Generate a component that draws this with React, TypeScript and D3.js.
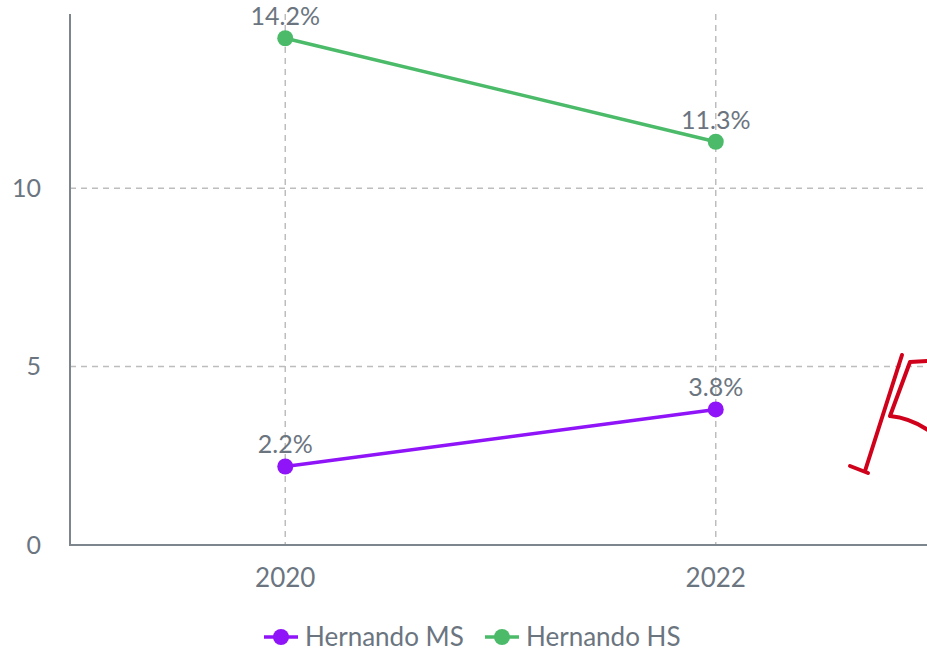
import React, { useRef, useEffect } from 'react';
import * as d3 from 'd3';

const years = ['2020', '2022'];
const msValues = [2.2, 3.8];
const hsValues = [14.2, 11.3];
const yTicks = [0, 5, 10];
const seriesNames = ['Hernando MS', 'Hernando HS'];

export default function App() {
  const ref = useRef<SVGSVGElement>(null);

  useEffect(() => {
    const svg = d3.select(ref.current);
    svg.selectAll('*').remove();

    const width = 927;
    const height = 651;
    const left = 70, right = 931, top = 14, bottom = 545;
    const font = 'Lato, "Open Sans", sans-serif';
    const textColor = '#6b7580';
    const axisColor = '#7d858d';
    const gridColor = '#bdbdbd';

    svg.attr('width', width).attr('height', height);

    const x = d3.scalePoint<string>().domain(years).range([left, right]).padding(0.5);
    const y = d3.scaleLinear().domain([0, 14.88]).range([bottom, top]);

    const series = [
      { name: seriesNames[0], values: msValues, color: '#8f14f7' },
      { name: seriesNames[1], values: hsValues, color: '#4bbb6a' },
    ];

    // grid
    svg.append('g')
      .selectAll('line')
      .data(yTicks.filter(d => d > 0))
      .join('line')
        .attr('x1', left).attr('x2', width)
        .attr('y1', d => y(d)).attr('y2', d => y(d))
        .attr('stroke', gridColor)
        .attr('stroke-width', 1.5)
        .attr('stroke-dasharray', '6,5');

    svg.append('g')
      .selectAll('line')
      .data(years)
      .join('line')
        .attr('x1', d => x(d)!).attr('x2', d => x(d)!)
        .attr('y1', top).attr('y2', bottom)
        .attr('stroke', gridColor)
        .attr('stroke-width', 1.5)
        .attr('stroke-dasharray', '6,5');

    // axes
    svg.append('line')
      .attr('x1', left).attr('x2', left)
      .attr('y1', top).attr('y2', bottom + 1)
      .attr('stroke', axisColor).attr('stroke-width', 2);
    svg.append('line')
      .attr('x1', left - 1).attr('x2', width)
      .attr('y1', bottom).attr('y2', bottom)
      .attr('stroke', axisColor).attr('stroke-width', 2);

    svg.append('g')
      .selectAll('text')
      .data(yTicks)
      .join('text')
        .attr('x', 41)
        .attr('y', d => y(d))
        .attr('dy', '0.35em')
        .attr('text-anchor', 'end')
        .attr('fill', textColor)
        .style('font-family', font)
        .style('font-size', '25px')
        .text(d => d);

    svg.append('g')
      .selectAll('text')
      .data(years)
      .join('text')
        .attr('x', d => x(d)!)
        .attr('y', 578)
        .attr('dy', '0.35em')
        .attr('text-anchor', 'middle')
        .attr('fill', textColor)
        .style('font-family', font)
        .style('font-size', '26px')
        .text(d => d);

    const line = d3.line<number>()
      .x((_, i) => x(years[i])!)
      .y(d => y(d));

    series.forEach(s => {
      svg.append('path')
        .datum(s.values)
        .attr('d', line)
        .attr('fill', 'none')
        .attr('stroke', s.color)
        .attr('stroke-width', 3.5);

      svg.append('g')
        .selectAll('circle')
        .data(s.values)
        .join('circle')
          .attr('cx', (_, i) => x(years[i])!)
          .attr('cy', d => y(d))
          .attr('r', 8)
          .attr('fill', s.color);

      svg.append('g')
        .selectAll('text')
        .data(s.values)
        .join('text')
          .attr('x', (_, i) => x(years[i])!)
          .attr('y', d => y(d) - 22)
          .attr('dy', '0.35em')
          .attr('text-anchor', 'middle')
          .attr('fill', textColor)
          .style('font-family', font)
          .style('font-size', '25px')
          .text(d => `${d.toFixed(1)}%`);
    });

    // legend
    const legendX = [264, 485];
    const legend = svg.append('g')
      .selectAll('g')
      .data(series)
      .join('g')
        .attr('transform', (_, i) => `translate(${legendX[i]},637)`);
    legend.append('line')
      .attr('x1', 0).attr('x2', 34)
      .attr('stroke', d => d.color).attr('stroke-width', 3.5);
    legend.append('circle')
      .attr('cx', 17).attr('r', 8)
      .attr('fill', d => d.color);
    legend.append('text')
      .attr('x', 41)
      .attr('dy', '0.35em')
      .attr('fill', textColor)
      .style('font-family', font)
      .style('font-size', '26px')
      .text(d => d.name);

    // hand-drawn red mark at the right edge
    const red = '#d0021b';
    const mark = svg.append('g')
      .attr('fill', 'none')
      .attr('stroke', red)
      .attr('stroke-width', 4)
      .attr('stroke-linecap', 'round')
      .attr('stroke-linejoin', 'round');
    mark.append('path').attr('d', 'M902,355 L865,471');
    mark.append('path').attr('d', 'M850,466 L868,473');
    mark.append('path').attr('d', 'M928,361 L910,362 L890,416 Q910,418 928,430');
  }, []);

  return <svg ref={ref} style={{ position: 'absolute', left: 0, top: 0 }} />;
}
